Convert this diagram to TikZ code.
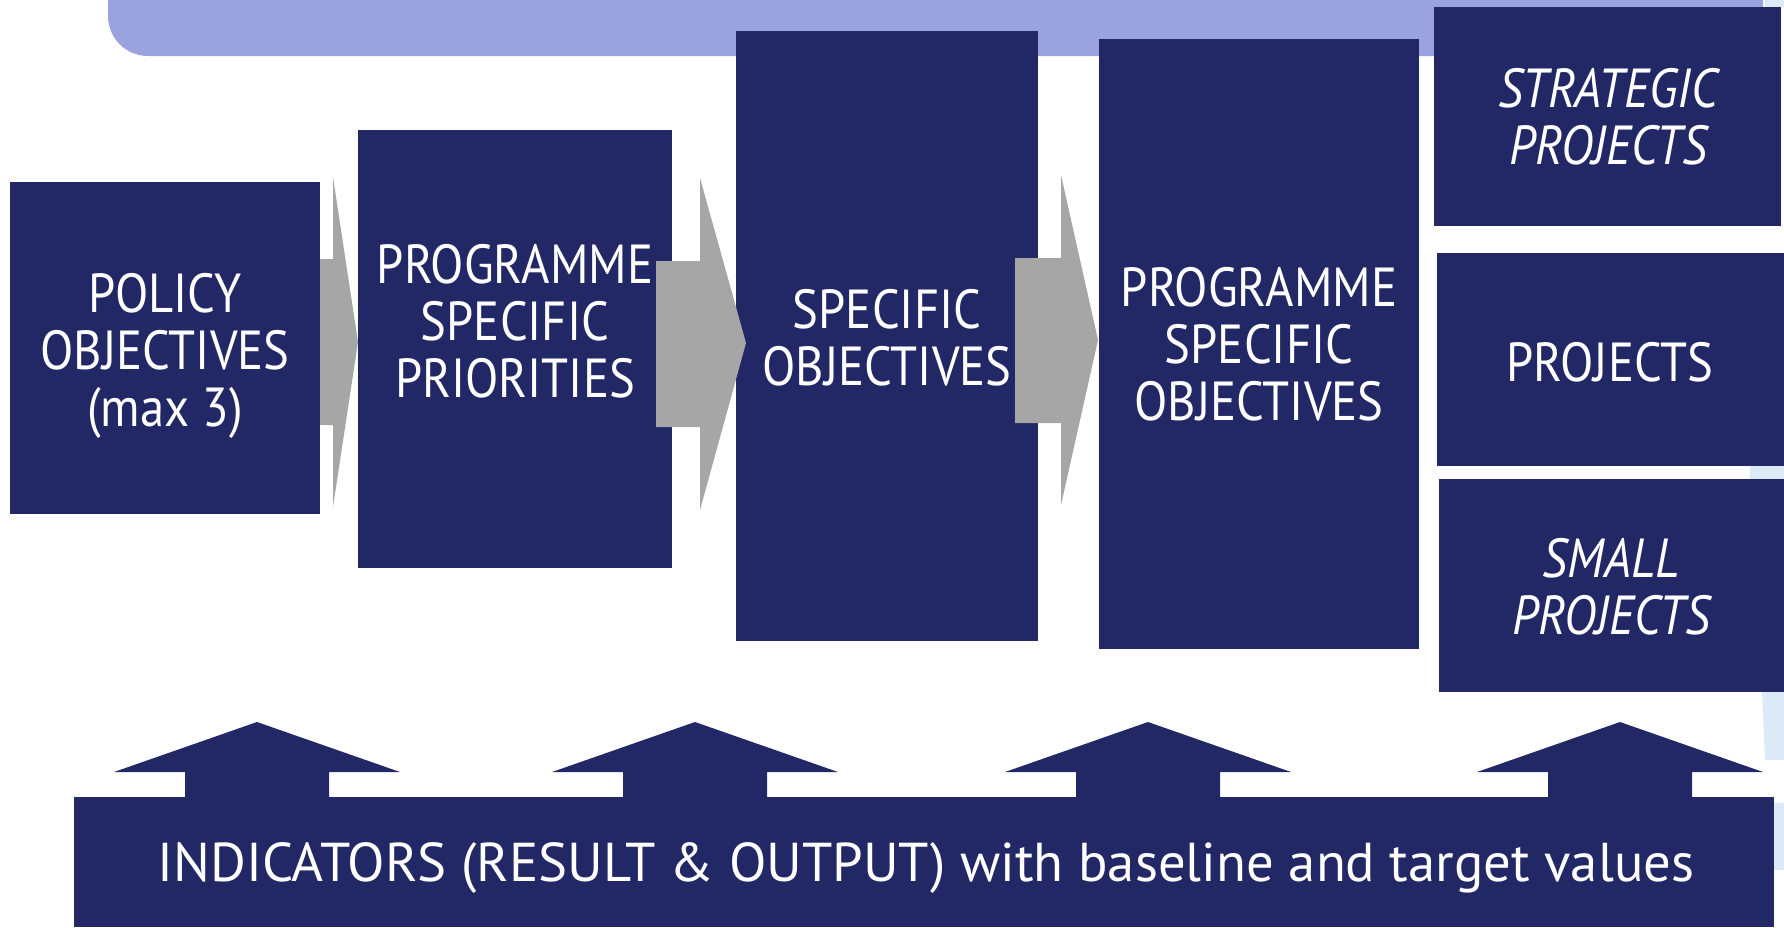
\documentclass[tikz,border=0pt]{standalone}
\usepackage{fontspec}
\setmainfont{PT Sans}
\newfontfamily\boxfont[FakeStretch=0.885]{PT Sans}
\definecolor{navy}{HTML}{222865}
\definecolor{banner}{HTML}{9BA3DE}
\definecolor{arrowgray}{HTML}{A6A6A6}
\definecolor{paleblue}{HTML}{DCEAF7}
\begin{document}
\begin{tikzpicture}[x=1pt,y=-1pt,
  box/.style={fill=navy,draw=none,inner sep=0pt,anchor=center},
  lbl/.style={text=white,align=center,inner sep=0pt,anchor=center,font=\boxfont\fontsize{55}{57}\selectfont},
  ilbl/.style={lbl,font=\boxfont\fontsize{55}{57}\selectfont\itshape},
  barlbl/.style={text=white,align=center,inner sep=0pt,anchor=center,font=\fontsize{54.7}{57}\selectfont},
  grayarrow/.style={fill=arrowgray,draw=none},
  uparrow/.style={fill=navy,draw=none},
  pale/.style={fill=paleblue,draw=none}]
\useasboundingbox (0,0) rectangle (1784,927);
\clip (0,0) rectangle (1784,927);
% banner
\fill[banner,rounded corners=40pt] (108,-80) rectangle (1763,56);
% pale fragments at right edge
\fill[pale] (1765,0) rectangle (1784,7);
\fill[pale] (1750,460) rectangle (1784,500);
\fill[pale] (1762,692) -- (1784,692) -- (1784,760) -- (1765,760) -- cycle;
\fill[pale] (1770,803) rectangle (1784,870);
% boxes
\node[box,minimum width=310pt,minimum height=332pt] (b1) at (165,348) {};
\node[box,minimum width=314pt,minimum height=438pt] (b2) at (515,349) {};
\node[box,minimum width=302pt,minimum height=610pt] (b3) at (887,336) {};
\node[box,minimum width=320pt,minimum height=610pt] (b4) at (1259,344) {};
\node[box,minimum width=347pt,minimum height=219pt] (b5) at (1607.5,116.5) {};
\node[box,minimum width=347pt,minimum height=213pt] (b6) at (1610.5,359.5) {};
\node[box,minimum width=345pt,minimum height=213pt] (b7) at (1611.5,585.5) {};
\node[box,minimum width=1700pt,minimum height=130pt] (bar) at (924,862) {};
% gray arrows
\fill[grayarrow] (320,259) -- (333,259) -- (333,177) -- (358,342) -- (333,507) -- (333,425) -- (320,425) -- cycle;
\fill[grayarrow] (656,261) -- (700,261) -- (700,178) -- (746,343) -- (700,510) -- (700,427) -- (656,427) -- cycle;
\fill[grayarrow] (1015,258) -- (1061,258) -- (1061,175) -- (1098,340) -- (1061,505) -- (1061,423) -- (1015,423) -- cycle;
% up arrows
\foreach \c/\n in {257/ua,695/ub,1148/uc,1620/ud}{
  \fill[uparrow] (\c-72,797) -- (\c-72,772) -- (\c-143,772) -- (\c,722) -- (\c+143,772) -- (\c+72,772) -- (\c+72,797) -- cycle;
}
% labels
\node[lbl] (t1) at (165,355.5) {POLICY\\OBJECTIVES\\(max 3)};
\node[lbl] (t2) at (515,321.7) {PROGRAMME\\SPECIFIC\\PRIORITIES};
\node[lbl] (t3) at (887,338) {SPECIFIC\\OBJECTIVES};
\node[lbl] (t4) at (1259,344) {PROGRAMME\\SPECIFIC\\OBJECTIVES};
\node[ilbl] (t5) at (1608,117) {STRATEGIC\\PROJECTS};
\node[lbl] (t6) at (1610,362) {PROJECTS};
\node[ilbl] (t7) at (1611,587) {SMALL\\PROJECTS};
\node[barlbl] (t8) at (926,868.5) {INDICATORS (RESULT \& OUTPUT) with baseline and target values};
\end{tikzpicture}
\end{document}
